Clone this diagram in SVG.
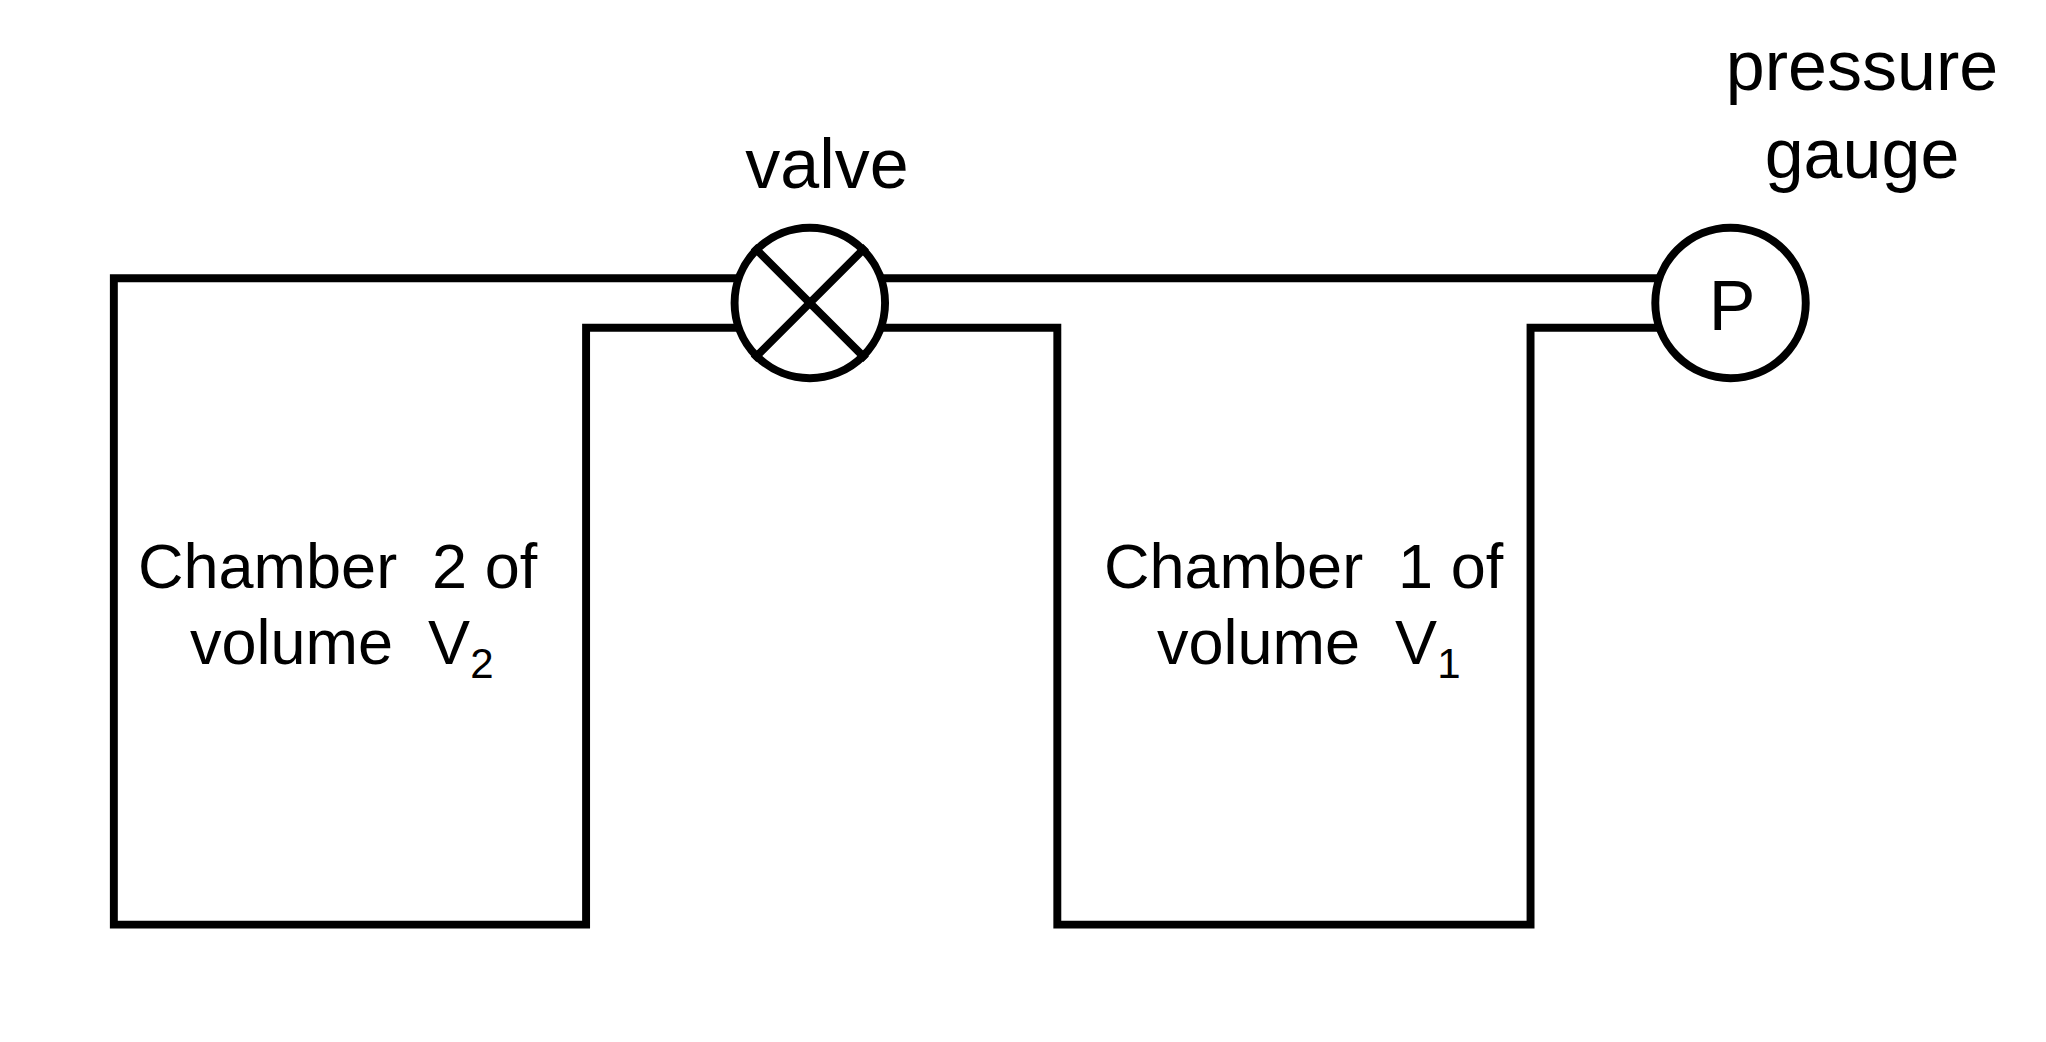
<svg xmlns="http://www.w3.org/2000/svg" width="2046" height="1042" viewBox="0 0 2046 1042">
<style>
.l{fill:none;stroke:#000;stroke-width:8;stroke-linecap:square}
.t{font-family:"Liberation Sans",Arial,sans-serif;font-size:70px;fill:#000;white-space:pre}
.c{font-size:63px}
</style>
<rect width="2046" height="1042" fill="#fff"/>
<g transform="scale(0.99)">
<g id="connectors">
<path class="l" d="M742 281 H115 V934 H592 V331 H742"/>
<path class="l" d="M894 281 H1672"/>
<path class="l" d="M894 331 H1068 V934 H1546 V331 H1672"/>
</g>
<g id="valve">
<circle class="l" cx="818" cy="306" r="76"/>
<path class="l" d="M764 252 L872 360 M872 252 L764 360"/>
</g>
<g id="gauge">
<circle class="l" cx="1748" cy="306" r="76"/>
</g>
</g>
<text class="t" x="827" y="188" text-anchor="middle">valve</text>
<text class="t" x="1732" y="330" text-anchor="middle" font-size="60">P</text>
<text class="t" x="1862" y="90" text-anchor="middle">pressure</text>
<text class="t" x="1862" y="178" text-anchor="middle">gauge</text>
<g id="chamber2">
<text class="t c" x="138" y="588">Chamber  2 of</text>
<text class="t c" x="190" y="664">volume  V<tspan font-size="42" dy="14">2</tspan></text>
</g>
<g id="chamber1">
<text class="t c" x="1104" y="588">Chamber  1 of</text>
<text class="t c" x="1157" y="664">volume  V<tspan font-size="42" dy="14">1</tspan></text>
</g>
</svg>
